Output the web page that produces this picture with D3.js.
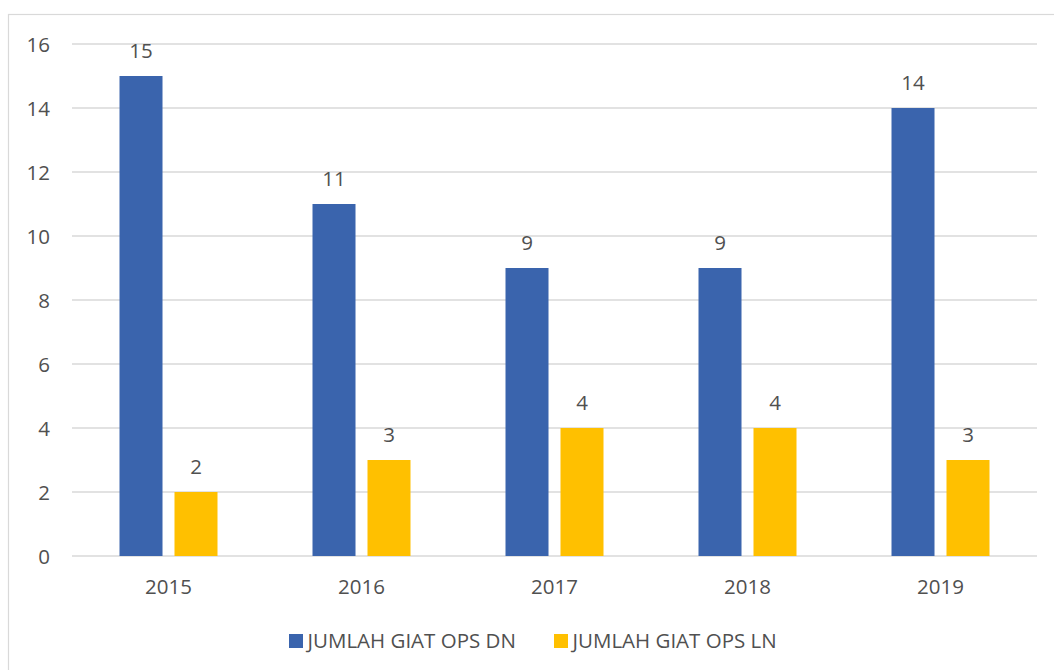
<!DOCTYPE html>
<html>
<head>
<meta charset="utf-8">
<script src="https://cdn.jsdelivr.net/npm/d3@7"></script>
<style>
  html, body { margin: 0; padding: 0; background: #fff; }
  svg { display: block; }
  text { font-family: "Open Sans", "Noto Sans", sans-serif; fill: #505050; }
</style>
</head>
<body>
<svg id="chart" width="1054" height="670"></svg>
<script>
const categories = ["2015", "2016", "2017", "2018", "2019"];
const seriesNames = ["JUMLAH GIAT OPS DN", "JUMLAH GIAT OPS LN"];
const dnValues = [15, 11, 9, 9, 14];
const lnValues = [2, 3, 4, 4, 3];
const yTicks = [0, 2, 4, 6, 8, 10, 12, 14, 16];
const colors = ["#3a64ad", "#ffc000"];

(function () {
const svg = d3.select("#chart");
const fs = 20.5;

// chart border
svg.append("rect")
  .attr("x", 8.5).attr("y", 14.5)
  .attr("width", 1100).attr("height", 700)
  .attr("fill", "none").attr("stroke", "#d9d9d9").attr("stroke-width", 1.2);

const pLeft = 72, pRight = 1037, pTop = 44, pBottom = 556;

const x0 = d3.scaleBand().domain(categories).range([pLeft, pRight]).padding(0);
const bw = x0.bandwidth();
const x1 = d3.scaleBand().domain(seriesNames)
  .range([bw / 2 - 49, bw / 2 + 49]).paddingInner(0.218).paddingOuter(0);
const y = d3.scaleLinear().domain([0, 16]).range([pBottom, pTop]);

// gridlines
svg.append("g").selectAll("line").data(yTicks).join("line")
  .attr("x1", pLeft).attr("x2", pRight)
  .attr("y1", d => Math.round(y(d))).attr("y2", d => Math.round(y(d)))
  .attr("stroke", "#d9d9d9").attr("stroke-width", 1.4);

// y tick labels
svg.append("g").selectAll("text").data(yTicks).join("text")
  .attr("x", 50).attr("y", d => y(d) + 7.5)
  .attr("text-anchor", "end")
  .attr("font-size", fs)
  .text(d => d);

// x labels
svg.append("g").selectAll("text").data(categories).join("text")
  .attr("x", d => x0(d) + bw / 2).attr("y", 594)
  .attr("text-anchor", "middle")
  .attr("font-size", fs)
  .text(d => d);

const data = categories.map((c, i) => ({ cat: c, vals: [dnValues[i], lnValues[i]] }));

const groups = svg.append("g").selectAll("g").data(data).join("g")
  .attr("transform", d => `translate(${x0(d.cat)},0)`);

groups.selectAll("rect").data(d => d.vals.map((v, j) => ({ s: seriesNames[j], v, j })))
  .join("rect")
  .attr("x", d => x1(d.s))
  .attr("y", d => y(d.v))
  .attr("width", x1.bandwidth())
  .attr("height", d => y(0) - y(d.v))
  .attr("fill", d => colors[d.j]);

groups.selectAll("text.lbl").data(d => d.vals.map((v, j) => ({ s: seriesNames[j], v, j })))
  .join("text")
  .attr("class", "lbl")
  .attr("x", d => x1(d.s) + x1.bandwidth() / 2)
  .attr("y", d => y(d.v) - 18)
  .attr("text-anchor", "middle")
  .attr("font-size", fs)
  .text(d => d.v);

// legend
const legendX = [289, 554];
const lg = svg.append("g").selectAll("g").data(seriesNames).join("g")
  .attr("transform", (d, i) => `translate(${legendX[i]},634)`);
lg.append("rect").attr("width", 14).attr("height", 14)
  .attr("fill", (d, i) => colors[i]);
lg.append("text").attr("x", 18.5).attr("y", 14)
  .attr("font-size", fs)
  .text(d => d);
})();
</script>
</body>
</html>
